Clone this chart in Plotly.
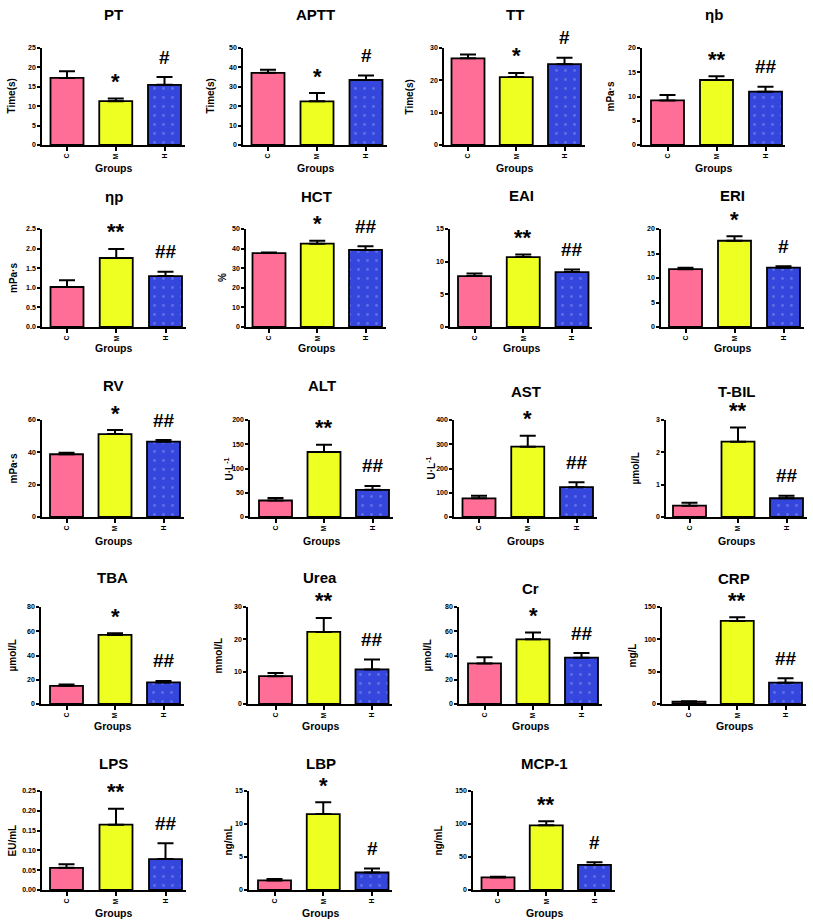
import plotly.graph_objects as go

# ---------------- data ----------------
groups = ["C", "M", "H"]
panel_names = ["PT", "APTT", "TT", "ηb", "ηp", "HCT", "EAI", "ERI", "RV", "ALT",
               "AST", "T-BIL", "TBA", "Urea", "Cr", "CRP", "LPS", "LBP", "MCP-1"]
y_titles = ["Time(s)", "Time(s)", "Time(s)", "mPa·s", "mPa·s", "%", "", "", "mPa·s",
            "U·L<sup>-1</sup>", "U·L<sup>-1</sup>", "µmol/L", "µmol/L", "mmol/L",
            "µmol/L", "mg/L", "EU/mL", "ng/mL", "ng/mL"]

mean_C = [17.3, 37.2, 26.8, 9.2, 1.02, 37.7, 7.8, 11.8, 38.8, 34, 77, 0.35, 15.0, 8.6, 33.5, 3.5, 0.056, 1.45, 19]
mean_M = [11.3, 22.5, 21.0, 13.4, 1.76, 42.5, 10.7, 17.6, 51.3, 134, 290, 2.33, 57.0, 22.3, 53.3, 128.5, 0.165, 11.5, 98]
mean_H = [15.5, 33.5, 25.0, 11.0, 1.30, 39.3, 8.4, 12.1, 46.6, 56, 123, 0.58, 17.8, 10.7, 38.2, 33, 0.078, 2.65, 38]
sem_C = [1.7, 1.6, 1.2, 1.1, 0.17, 0.3, 0.4, 0.3, 1.0, 5, 11, 0.09, 1.0, 1.0, 5.0, 0.7, 0.009, 0.2, 1]
sem_M = [0.7, 4.3, 1.3, 0.8, 0.23, 1.5, 0.4, 0.9, 2.5, 15, 45, 0.44, 1.3, 4.3, 5.7, 5.5, 0.040, 1.8, 6]
sem_H = [2.0, 2.3, 2.0, 1.0, 0.11, 1.9, 0.4, 0.3, 1.0, 8, 20, 0.08, 1.2, 3.1, 3.8, 7.0, 0.040, 0.6, 4]
sig_M = ["*", "*", "*", "**", "**", "*", "**", "*", "*", "**", "*", "**", "*", "**", "*", "**", "**", "*", "**"]
sig_H = ["#", "#", "#", "##", "##", "##", "##", "#", "##", "##", "##", "##", "##", "##", "##", "##", "##", "#", "#"]

y_max = [25, 50, 30, 20, 2.5, 50, 15, 20, 60, 200, 400, 3, 80, 30, 80, 150, 0.25, 15, 150]
y_step = [5, 10, 10, 5, 0.5, 10, 5, 5, 20, 50, 100, 1, 20, 10, 20, 50, 0.05, 5, 50]
y_dec = [0, 0, 0, 0, 1, 0, 0, 0, 0, 0, 0, 0, 0, 0, 0, 0, 2, 0, 0]

# ---------------- layout (pixels) ----------------
W, H = 813, 921
ax_x0 = [42, 243, 444, 642, 42, 246, 450, 661, 42, 250, 454, 666, 41, 248, 459, 662, 42, 249, 473]
ax_x1 = [185, 387, 585, 785, 186, 386, 592, 804, 184, 393, 597, 807, 184, 392, 602, 806, 186, 392, 615]
bar_c0 = [67, 268, 468, 667.5, 67, 269, 474.5, 685.5, 66.5, 275.5, 479, 689.5, 66.5, 275.5, 484.5, 689, 66.5, 274.5, 498]
bar_c2 = [164.5, 366, 564.5, 765.5, 165.5, 365.5, 572, 783.5, 163.5, 372.5, 576.5, 786.5, 163.5, 372, 581.5, 785.5, 165.5, 372, 594.5]
row_top = [48, 229, 420, 607, 791]
row_bot = [145, 327, 517, 704, 890]
title_y = [14, 14, 14, 14, 197, 197, 196, 196, 386, 386, 392, 392, 577, 577, 588, 578, 763, 763, 763]
groups_y = [168, 348, 541, 726, 913]
ytitle_x = [11, 210, 409, 610, 13, 222, None, None, 13, 228, 430, 635, 12, 218, 427, 632, 12, 228, 438]

bar_colors = ["#FF6E96", "#EEFF22", "#3546DC"]
BAR_PX = 33

fig = go.Figure()
annotations = []
layout_axes = {}

for i, name in enumerate(panel_names):
    r = i // 4
    n = i + 1
    xa = "x" if n == 1 else f"x{n}"
    ya = "y" if n == 1 else f"y{n}"
    sp = (bar_c2[i] - bar_c0[i]) / 2.0
    xr = [-(bar_c0[i] - ax_x0[i]) / sp, 2 + (ax_x1[i] - bar_c2[i]) / sp]

    fig.add_trace(go.Bar(
        x=groups, y=[mean_C[i], mean_M[i], mean_H[i]],
        width=BAR_PX / sp,
        marker=dict(color=bar_colors, line=dict(color="black", width=1.8),
                    pattern=dict(shape=["", "", "."], fgcolor="#1c2a8a", fgopacity=0.22,
                                 size=9, solidity=0.08)),
        error_y=dict(type="data", symmetric=False,
                     array=[sem_C[i], sem_M[i], sem_H[i]], arrayminus=[0, 0, 0],
                     color="black", thickness=2, width=8),
        xaxis=xa, yaxis=ya, showlegend=False, hoverinfo="skip"))

    tv = []
    k = 0
    while k * y_step[i] <= y_max[i] + 1e-9:
        tv.append(round(k * y_step[i], 4))
        k += 1
    tt = [f"{v:.{y_dec[i]}f}" for v in tv]

    tick_font = dict(family="Liberation Sans, Arial", size=7, color="black", weight="bold")
    layout_axes["xaxis" if n == 1 else f"xaxis{n}"] = dict(
        domain=[ax_x0[i] / W, ax_x1[i] / W], anchor=ya, range=xr,
        type="category", categoryorder="array", categoryarray=groups,
        showline=True, linecolor="black", linewidth=1.5, ticks="outside",
        ticklen=4, tickwidth=1.5, tickcolor="black", tickangle=-90,
        tickfont=tick_font, showgrid=False, zeroline=False, fixedrange=True,
        automargin=False)
    layout_axes["yaxis" if n == 1 else f"yaxis{n}"] = dict(
        domain=[1 - row_bot[r] / H, 1 - row_top[r] / H], anchor=xa,
        range=[0, y_max[i]], tickvals=tv, ticktext=tt,
        showline=True, linecolor="black", linewidth=1.5, ticks="outside",
        ticklen=3, tickwidth=1.5, tickcolor="black", tickfont=tick_font,
        showgrid=False, zeroline=False, fixedrange=True, automargin=False)

    cx = (ax_x0[i] + ax_x1[i]) / 2.0
    # panel title
    annotations.append(dict(text=f"<b>{name}</b>", x=cx / W, y=1 - title_y[i] / H,
                            xref="paper", yref="paper", showarrow=False,
                            xanchor="center", yanchor="middle",
                            font=dict(family="Liberation Sans, Arial", size=15, color="black")))
    # x title
    annotations.append(dict(text="<b>Groups</b>", x=cx / W, y=1 - groups_y[r] / H,
                            xref="paper", yref="paper", showarrow=False,
                            xanchor="center", yanchor="middle",
                            font=dict(family="Liberation Sans, Arial", size=10.5, color="black")))
    # y title
    if ytitle_x[i] is not None and y_titles[i]:
        annotations.append(dict(text=f"<b>{y_titles[i]}</b>", x=ytitle_x[i] / W,
                                y=1 - (row_top[r] + row_bot[r]) / 2.0 / H,
                                xref="paper", yref="paper", showarrow=False, textangle=-90,
                                xanchor="center", yanchor="middle",
                                font=dict(family="Liberation Sans, Arial", size=10, color="black")))
    # significance marks
    annotations.append(dict(text=f"<b>{sig_M[i]}</b>", x="M", y=mean_M[i] + sem_M[i],
                            xref=xa, yref=ya, showarrow=False, xanchor="center",
                            yanchor="middle", yshift=17,
                            font=dict(family="Liberation Sans, Arial", size=22, color="black")))
    annotations.append(dict(text=f"<b>{sig_H[i]}</b>", x="H", y=mean_H[i] + sem_H[i],
                            xref=xa, yref=ya, showarrow=False, xanchor="center",
                            yanchor="middle", yshift=20,
                            font=dict(family="Liberation Sans, Arial", size=19, color="black")))

fig.update_layout(width=W, height=H, margin=dict(l=0, r=0, t=0, b=0, autoexpand=False),
                  paper_bgcolor="white", plot_bgcolor="white",
                  annotations=annotations, bargap=0.3, **layout_axes)

fig.write_html("out.html", config={"displayModeBar": False},
               post_script="document.body.style.margin='0';document.body.style.overflow='hidden';")
